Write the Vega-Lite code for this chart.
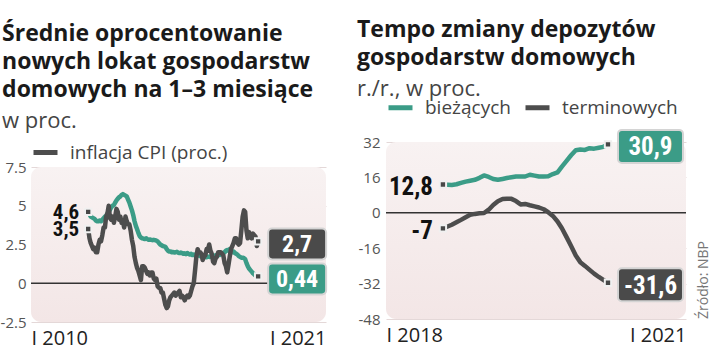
{
"$schema": "https://vega.github.io/schema/vega-lite/v6.json",
"padding": {"left": 0, "top": 19, "right": 0, "bottom": 2},
"background": "#ffffff",
"spacing": 26,
"resolve": {"scale": {"x": "independent", "y": "independent", "color": "independent", "fill": "independent"}, "legend": {"color": "independent"}},
"config": {
  "locale": {"number": {"decimal": ".", "thousands": ",", "grouping": [3], "currency": ["", ""], "minus": "-"}},
  "view": {"stroke": null, "fill": null},
  "font": "Open Sans",
  "title": {"anchor": "start", "frame": "bounds", "font": "Open Sans", "fontSize": 23, "fontWeight": "bold", "color": "#1a1a1a", "lineHeight": 28, "subtitleFont": "Open Sans", "subtitleFontSize": 22, "subtitleColor": "#444444", "subtitleFontWeight": "normal", "subtitlePadding": 9},
  "axisX": {"domain": false, "ticks": false, "grid": false, "labelFont": "Open Sans", "labelFontSize": 20, "labelColor": "#222222", "labelFlush": true, "labelPadding": 6, "title": null},
  "axisY": {"domain": false, "ticks": false, "grid": true, "gridColor": "#e4d8d8", "gridWidth": 1, "zindex": 1, "labelOverlap": false, "labelBound": false, "labelFont": "Open Sans", "labelFontSize": 15, "labelColor": "#555555", "labelPadding": 5, "title": null},
  "legend": {"orient": "top", "title": null, "labelFont": "Open Sans", "labelFontSize": 19, "labelColor": "#444444", "symbolType": "stroke", "symbolStrokeWidth": 5, "symbolSize": 576, "labelOffset": 10, "columnPadding": 4, "padding": 0}
},
"datasets": {
  "dep": [
{"d":"2010-01-01","v":4.6},{"d":"2010-02-01","v":4.45},{"d":"2010-03-01","v":4.3},{"d":"2010-04-01","v":4.25},{"d":"2010-05-01","v":4.2},{"d":"2010-06-01","v":4.15},{"d":"2010-07-01","v":4.05},{"d":"2010-08-01","v":4.0},{"d":"2010-09-01","v":4.0},{"d":"2010-10-01","v":4.05},{"d":"2010-11-01","v":4.0},{"d":"2010-12-01","v":4.1},
{"d":"2011-01-01","v":4.2},{"d":"2011-02-01","v":4.3},{"d":"2011-03-01","v":4.35},{"d":"2011-04-01","v":4.5},{"d":"2011-05-01","v":4.6},{"d":"2011-06-01","v":4.75},{"d":"2011-07-01","v":4.9},{"d":"2011-08-01","v":5.0},{"d":"2011-09-01","v":5.05},{"d":"2011-10-01","v":5.2},{"d":"2011-11-01","v":5.35},{"d":"2011-12-01","v":5.45},
{"d":"2012-01-01","v":5.55},{"d":"2012-02-01","v":5.6},{"d":"2012-03-01","v":5.7},{"d":"2012-04-01","v":5.75},{"d":"2012-05-01","v":5.7},{"d":"2012-06-01","v":5.65},{"d":"2012-07-01","v":5.6},{"d":"2012-08-01","v":5.4},{"d":"2012-09-01","v":5.2},{"d":"2012-10-01","v":4.95},{"d":"2012-11-01","v":4.7},{"d":"2012-12-01","v":4.4},
{"d":"2013-01-01","v":4.0},{"d":"2013-02-01","v":3.7},{"d":"2013-03-01","v":3.5},{"d":"2013-04-01","v":3.25},{"d":"2013-05-01","v":3.05},{"d":"2013-06-01","v":2.95},{"d":"2013-07-01","v":2.9},{"d":"2013-08-01","v":2.88},{"d":"2013-09-01","v":2.85},{"d":"2013-10-01","v":2.9},{"d":"2013-11-01","v":2.85},{"d":"2013-12-01","v":2.8},
{"d":"2014-01-01","v":2.82},{"d":"2014-02-01","v":2.8},{"d":"2014-03-01","v":2.78},{"d":"2014-04-01","v":2.8},{"d":"2014-05-01","v":2.78},{"d":"2014-06-01","v":2.75},{"d":"2014-07-01","v":2.7},{"d":"2014-08-01","v":2.6},{"d":"2014-09-01","v":2.5},{"d":"2014-10-01","v":2.45},{"d":"2014-11-01","v":2.4},{"d":"2014-12-01","v":2.38},
{"d":"2015-01-01","v":2.35},{"d":"2015-02-01","v":2.2},{"d":"2015-03-01","v":2.1},{"d":"2015-04-01","v":2.05},{"d":"2015-05-01","v":2.05},{"d":"2015-06-01","v":2.0},{"d":"2015-07-01","v":2.02},{"d":"2015-08-01","v":1.98},{"d":"2015-09-01","v":2.0},{"d":"2015-10-01","v":2.03},{"d":"2015-11-01","v":1.97},{"d":"2015-12-01","v":1.95},
{"d":"2016-01-01","v":1.98},{"d":"2016-02-01","v":1.95},{"d":"2016-03-01","v":1.9},{"d":"2016-04-01","v":1.93},{"d":"2016-05-01","v":1.88},{"d":"2016-06-01","v":1.95},{"d":"2016-07-01","v":1.9},{"d":"2016-08-01","v":1.85},{"d":"2016-09-01","v":1.9},{"d":"2016-10-01","v":1.82},{"d":"2016-11-01","v":1.86},{"d":"2016-12-01","v":1.8},
{"d":"2017-01-01","v":1.8},{"d":"2017-02-01","v":1.84},{"d":"2017-03-01","v":1.78},{"d":"2017-04-01","v":1.75},{"d":"2017-05-01","v":1.8},{"d":"2017-06-01","v":1.72},{"d":"2017-07-01","v":1.7},{"d":"2017-08-01","v":1.75},{"d":"2017-09-01","v":1.68},{"d":"2017-10-01","v":1.72},{"d":"2017-11-01","v":1.7},{"d":"2017-12-01","v":1.74},
{"d":"2018-01-01","v":1.7},{"d":"2018-02-01","v":1.75},{"d":"2018-03-01","v":1.68},{"d":"2018-04-01","v":1.8},{"d":"2018-05-01","v":1.78},{"d":"2018-06-01","v":1.85},{"d":"2018-07-01","v":1.82},{"d":"2018-08-01","v":1.9},{"d":"2018-09-01","v":1.87},{"d":"2018-10-01","v":1.95},{"d":"2018-11-01","v":2.0},{"d":"2018-12-01","v":2.1},
{"d":"2019-01-01","v":2.15},{"d":"2019-02-01","v":2.1},{"d":"2019-03-01","v":2.2},{"d":"2019-04-01","v":2.05},{"d":"2019-05-01","v":2.0},{"d":"2019-06-01","v":2.05},{"d":"2019-07-01","v":1.95},{"d":"2019-08-01","v":1.9},{"d":"2019-09-01","v":1.85},{"d":"2019-10-01","v":1.75},{"d":"2019-11-01","v":1.7},{"d":"2019-12-01","v":1.65},
{"d":"2020-01-01","v":1.65},{"d":"2020-02-01","v":1.62},{"d":"2020-03-01","v":1.55},{"d":"2020-04-01","v":1.3},{"d":"2020-05-01","v":1.1},{"d":"2020-06-01","v":0.95},{"d":"2020-07-01","v":0.85},{"d":"2020-08-01","v":0.75},{"d":"2020-09-01","v":0.65},{"d":"2020-10-01","v":0.58},{"d":"2020-11-01","v":0.5},{"d":"2020-12-01","v":0.47},
{"d":"2021-01-01","v":0.44}
  ],
  "cpi": [
{"d":"2010-01-01","v":3.5},{"d":"2010-02-01","v":2.9},{"d":"2010-03-01","v":2.6},{"d":"2010-04-01","v":2.4},{"d":"2010-05-01","v":2.2},{"d":"2010-06-01","v":2.3},{"d":"2010-07-01","v":2.0},{"d":"2010-08-01","v":2.0},{"d":"2010-09-01","v":2.5},{"d":"2010-10-01","v":2.8},{"d":"2010-11-01","v":2.7},{"d":"2010-12-01","v":3.1},
{"d":"2011-01-01","v":3.6},{"d":"2011-02-01","v":3.6},{"d":"2011-03-01","v":4.3},{"d":"2011-04-01","v":4.5},{"d":"2011-05-01","v":5.0},{"d":"2011-06-01","v":4.2},{"d":"2011-07-01","v":4.1},{"d":"2011-08-01","v":4.3},{"d":"2011-09-01","v":3.9},{"d":"2011-10-01","v":4.3},{"d":"2011-11-01","v":4.8},{"d":"2011-12-01","v":4.6},
{"d":"2012-01-01","v":4.1},{"d":"2012-02-01","v":4.3},{"d":"2012-03-01","v":3.9},{"d":"2012-04-01","v":4.0},{"d":"2012-05-01","v":3.6},{"d":"2012-06-01","v":4.3},{"d":"2012-07-01","v":4.0},{"d":"2012-08-01","v":3.8},{"d":"2012-09-01","v":3.8},{"d":"2012-10-01","v":3.4},{"d":"2012-11-01","v":2.8},{"d":"2012-12-01","v":2.4},
{"d":"2013-01-01","v":1.7},{"d":"2013-02-01","v":1.3},{"d":"2013-03-01","v":1.0},{"d":"2013-04-01","v":0.8},{"d":"2013-05-01","v":0.5},{"d":"2013-06-01","v":0.2},{"d":"2013-07-01","v":1.1},{"d":"2013-08-01","v":1.1},{"d":"2013-09-01","v":1.0},{"d":"2013-10-01","v":0.8},{"d":"2013-11-01","v":0.6},{"d":"2013-12-01","v":0.7},
{"d":"2014-01-01","v":0.5},{"d":"2014-02-01","v":0.7},{"d":"2014-03-01","v":0.7},{"d":"2014-04-01","v":0.3},{"d":"2014-05-01","v":0.2},{"d":"2014-06-01","v":0.3},{"d":"2014-07-01","v":-0.2},{"d":"2014-08-01","v":-0.3},{"d":"2014-09-01","v":-0.3},{"d":"2014-10-01","v":-0.6},{"d":"2014-11-01","v":-0.6},{"d":"2014-12-01","v":-1.0},
{"d":"2015-01-01","v":-1.4},{"d":"2015-02-01","v":-1.6},{"d":"2015-03-01","v":-1.5},{"d":"2015-04-01","v":-1.1},{"d":"2015-05-01","v":-0.9},{"d":"2015-06-01","v":-0.8},{"d":"2015-07-01","v":-0.7},{"d":"2015-08-01","v":-0.6},{"d":"2015-09-01","v":-0.8},{"d":"2015-10-01","v":-0.7},{"d":"2015-11-01","v":-0.6},{"d":"2015-12-01","v":-0.5},
{"d":"2016-01-01","v":-0.9},{"d":"2016-02-01","v":-0.8},{"d":"2016-03-01","v":-0.9},{"d":"2016-04-01","v":-1.1},{"d":"2016-05-01","v":-0.9},{"d":"2016-06-01","v":-0.8},{"d":"2016-07-01","v":-0.9},{"d":"2016-08-01","v":-0.8},{"d":"2016-09-01","v":-0.5},{"d":"2016-10-01","v":-0.2},{"d":"2016-11-01","v":0.0},{"d":"2016-12-01","v":0.8},
{"d":"2017-01-01","v":1.7},{"d":"2017-02-01","v":2.2},{"d":"2017-03-01","v":2.0},{"d":"2017-04-01","v":2.0},{"d":"2017-05-01","v":1.9},{"d":"2017-06-01","v":1.5},{"d":"2017-07-01","v":1.7},{"d":"2017-08-01","v":1.8},{"d":"2017-09-01","v":2.2},{"d":"2017-10-01","v":2.1},{"d":"2017-11-01","v":2.5},{"d":"2017-12-01","v":2.1},
{"d":"2018-01-01","v":1.9},{"d":"2018-02-01","v":1.4},{"d":"2018-03-01","v":1.3},{"d":"2018-04-01","v":1.6},{"d":"2018-05-01","v":1.7},{"d":"2018-06-01","v":2.0},{"d":"2018-07-01","v":2.0},{"d":"2018-08-01","v":2.0},{"d":"2018-09-01","v":1.9},{"d":"2018-10-01","v":1.8},{"d":"2018-11-01","v":1.3},{"d":"2018-12-01","v":1.1},
{"d":"2019-01-01","v":0.7},{"d":"2019-02-01","v":1.2},{"d":"2019-03-01","v":1.7},{"d":"2019-04-01","v":2.2},{"d":"2019-05-01","v":2.4},{"d":"2019-06-01","v":2.6},{"d":"2019-07-01","v":2.9},{"d":"2019-08-01","v":2.9},{"d":"2019-09-01","v":2.6},{"d":"2019-10-01","v":2.5},{"d":"2019-11-01","v":2.6},{"d":"2019-12-01","v":3.4},
{"d":"2020-01-01","v":4.3},{"d":"2020-02-01","v":4.7},{"d":"2020-03-01","v":4.6},{"d":"2020-04-01","v":3.4},{"d":"2020-05-01","v":2.9},{"d":"2020-06-01","v":3.3},{"d":"2020-07-01","v":3.0},{"d":"2020-08-01","v":2.9},{"d":"2020-09-01","v":3.2},{"d":"2020-10-01","v":3.1},{"d":"2020-11-01","v":3.0},{"d":"2020-12-01","v":2.4},
{"d":"2021-01-01","v":2.7}
  ],
  "leftStart": [{"d":"2010-01-01","v":4.6,"t":"4,6"},{"d":"2010-01-01","v":3.5,"t":"3,5"}],
  "leftEnd": [{"d":"2021-01-01","v":2.7,"t":"2,7","k":"cpi"},{"d":"2021-01-01","v":0.44,"t":"0,44","k":"dep"}],
  "dep2": [
{"d":"2018-01-01","s":"bieżących","v":12.8},{"d":"2018-02-01","s":"bieżących","v":12.7},{"d":"2018-03-01","s":"bieżących","v":12.6},{"d":"2018-04-01","s":"bieżących","v":12.9},{"d":"2018-05-01","s":"bieżących","v":13.5},{"d":"2018-06-01","s":"bieżących","v":14.1},{"d":"2018-07-01","s":"bieżących","v":14.5},{"d":"2018-08-01","s":"bieżących","v":14.9},{"d":"2018-09-01","s":"bieżących","v":15.8},{"d":"2018-10-01","s":"bieżących","v":16.9},{"d":"2018-11-01","s":"bieżących","v":16.2},{"d":"2018-12-01","s":"bieżących","v":15.3},
{"d":"2019-01-01","s":"bieżących","v":14.9},{"d":"2019-02-01","s":"bieżących","v":15.3},{"d":"2019-03-01","s":"bieżących","v":15.7},{"d":"2019-04-01","s":"bieżących","v":16.1},{"d":"2019-05-01","s":"bieżących","v":16.4},{"d":"2019-06-01","s":"bieżących","v":16.4},{"d":"2019-07-01","s":"bieżących","v":16.4},{"d":"2019-08-01","s":"bieżących","v":17.2},{"d":"2019-09-01","s":"bieżących","v":16.8},{"d":"2019-10-01","s":"bieżących","v":16.4},{"d":"2019-11-01","s":"bieżących","v":16.4},{"d":"2019-12-01","s":"bieżących","v":16.5},
{"d":"2020-01-01","s":"bieżących","v":17.5},{"d":"2020-02-01","s":"bieżących","v":18.3},{"d":"2020-03-01","s":"bieżących","v":20.9},{"d":"2020-04-01","s":"bieżących","v":23.5},{"d":"2020-05-01","s":"bieżących","v":26.0},{"d":"2020-06-01","s":"bieżących","v":28.3},{"d":"2020-07-01","s":"bieżących","v":28.6},{"d":"2020-08-01","s":"bieżących","v":28.4},{"d":"2020-09-01","s":"bieżących","v":29.2},{"d":"2020-10-01","s":"bieżących","v":29.0},{"d":"2020-11-01","s":"bieżących","v":29.4},{"d":"2020-12-01","s":"bieżących","v":29.8},
{"d":"2021-01-01","s":"bieżących","v":30.9},
{"d":"2018-01-01","s":"terminowych","v":-7.0},{"d":"2018-02-01","s":"terminowych","v":-6.2},{"d":"2018-03-01","s":"terminowych","v":-5.4},{"d":"2018-04-01","s":"terminowych","v":-4.3},{"d":"2018-05-01","s":"terminowych","v":-3.2},{"d":"2018-06-01","s":"terminowych","v":-2.0},{"d":"2018-07-01","s":"terminowych","v":-0.9},{"d":"2018-08-01","s":"terminowych","v":-0.5},{"d":"2018-09-01","s":"terminowych","v":-0.2},{"d":"2018-10-01","s":"terminowych","v":-0.1},{"d":"2018-11-01","s":"terminowych","v":1.4},{"d":"2018-12-01","s":"terminowych","v":3.5},
{"d":"2019-01-01","s":"terminowych","v":5.2},{"d":"2019-02-01","s":"terminowych","v":6.2},{"d":"2019-03-01","s":"terminowych","v":6.4},{"d":"2019-04-01","s":"terminowych","v":6.3},{"d":"2019-05-01","s":"terminowych","v":5.3},{"d":"2019-06-01","s":"terminowych","v":3.8},{"d":"2019-07-01","s":"terminowych","v":4.0},{"d":"2019-08-01","s":"terminowych","v":3.4},{"d":"2019-09-01","s":"terminowych","v":2.9},{"d":"2019-10-01","s":"terminowych","v":2.4},{"d":"2019-11-01","s":"terminowych","v":1.6},{"d":"2019-12-01","s":"terminowych","v":0.3},
{"d":"2020-01-01","s":"terminowych","v":-1.4},{"d":"2020-02-01","s":"terminowych","v":-3.9},{"d":"2020-03-01","s":"terminowych","v":-7.0},{"d":"2020-04-01","s":"terminowych","v":-11.0},{"d":"2020-05-01","s":"terminowych","v":-15.0},{"d":"2020-06-01","s":"terminowych","v":-19.3},{"d":"2020-07-01","s":"terminowych","v":-22.3},{"d":"2020-08-01","s":"terminowych","v":-24.0},{"d":"2020-09-01","s":"terminowych","v":-25.8},{"d":"2020-10-01","s":"terminowych","v":-27.5},{"d":"2020-11-01","s":"terminowych","v":-29.0},{"d":"2020-12-01","s":"terminowych","v":-30.3},
{"d":"2021-01-01","s":"terminowych","v":-31.6}
  ],
  "rightStart": [{"d":"2018-01-01","v":12.8,"t":"12,8"},{"d":"2018-01-01","v":-7,"t":"-7"}],
  "rightEnd": [{"d":"2021-01-01","v":30.9,"t":"30,9","k":"g"},{"d":"2021-01-01","v":-31.6,"t":"-31,6","k":"d"}]
},
"hconcat": [
{
  "width": 295, "height": 180,
  "title": {"text": ["Średnie oprocentowanie", "nowych lokat gospodarstw", "domowych na 1–3 miesiące"], "subtitle": "w proc.", "offset": 6, "dx": 2},
  "layer": [
    {"data": {"values": [{}]}, "mark": {"type": "rect", "cornerRadius": 10, "color": {"gradient": "linear", "x1": 0, "y1": 0, "x2": 0, "y2": 1, "stops": [{"offset": 0, "color": "#f8f2f2"}, {"offset": 1, "color": "#f3e6e6"}]}},
     "encoding": {"y": {"datum": 7.5, "type": "quantitative", "scale": {"domain": [-2.5, 9.113], "nice": false, "zero": false}, "axis": {"values": [-2.5, 0, 2.5, 5, 7.5], "tickCount": 10, "labelExpr": "toString(datum.value)", "labelOverlap": false, "gridOpacity": {"condition": {"test": "datum.value === 0", "value": 0}, "value": 1}}}, "y2": {"datum": -2.5}}},
    {"data": {"values": [{}]}, "mark": {"type": "rule", "color": "#333333", "strokeWidth": 1.5}, "encoding": {"y": {"datum": 0, "type": "quantitative"}}},
    {"data": {"name": "dep"}, "mark": {"type": "line", "color": "#3b9c87", "strokeWidth": 4.5, "strokeJoin": "round", "strokeCap": "round"},
     "encoding": {
       "x": {"field": "d", "type": "temporal", "title": null, "scale": {"domain": [{"year": 2006, "month": 4, "date": 20, "utc": true}, {"year": 2025, "month": 5, "date": 25, "utc": true}]}, "axis": {"values": [{"year": 2006, "month": 4, "date": 20, "utc": true}, {"year": 2025, "month": 5, "date": 25, "utc": true}], "tickCount": 10, "labelExpr": "datum.value < utc(2015,0,1) ? 'I 2010' : 'I 2021'"}},
       "y": {"field": "v", "type": "quantitative", "title": null, "scale": {"domain": [-2.5, 9.113], "nice": false, "zero": false}}
     }},
    {"data": {"name": "cpi"}, "mark": {"type": "line", "strokeWidth": 4.5, "strokeJoin": "round", "strokeCap": "round"},
     "encoding": {
       "x": {"field": "d", "type": "temporal"},
       "y": {"field": "v", "type": "quantitative"},
       "color": {"datum": "inflacja CPI (proc.)", "type": "nominal", "scale": {"domain": ["inflacja CPI (proc.)"], "range": ["#4d4d4d"]}, "legend": {"offset": -21}}
     }},
    {"data": {"name": "leftStart"}, "mark": {"type": "point", "shape": "square", "filled": true, "size": 40, "fill": "#474747", "stroke": "#f0f0f0", "strokeWidth": 2, "opacity": 1},
     "encoding": {"x": {"field": "d", "type": "temporal"}, "y": {"field": "v", "type": "quantitative"}}},
    {"data": {"name": "leftStart"}, "mark": {"type": "text", "align": "right", "baseline": "middle", "xOffset": -9, "yOffset": 1, "font": "Roboto Condensed, Roboto", "fontWeight": "bold", "fontSize": 21, "color": "#111111"},
     "encoding": {"x": {"field": "d", "type": "temporal"}, "y": {"field": "v", "type": "quantitative"}, "text": {"field": "t"}}},
    {"data": {"name": "leftEnd"}, "mark": {"type": "point", "shape": "square", "filled": true, "size": 40, "fill": "#474747", "stroke": "#f0f0f0", "strokeWidth": 2, "opacity": 1},
     "encoding": {"x": {"field": "d", "type": "temporal"}, "y": {"field": "v", "type": "quantitative"}}},
    {"data": {"name": "leftEnd"}, "mark": {"type": "point", "shape": "M-0.86,-0.534H0.86A0.14,0.14 0 0 1 1,-0.394V0.394A0.14,0.14 0 0 1 0.86,0.534H-0.86A0.14,0.14 0 0 1 -1,0.394V-0.394A0.14,0.14 0 0 1 -0.86,-0.534Z", "size": 3364, "filled": true, "opacity": 1, "stroke": "#d4d4d4", "strokeWidth": 2, "xOffset": 39, "yOffset": 2.5},
     "encoding": {"x": {"field": "d", "type": "temporal"}, "y": {"field": "v", "type": "quantitative"}, "fill": {"field": "k", "type": "nominal", "scale": {"domain": ["cpi", "dep"], "range": ["#4a4a4a", "#3b9c87"]}, "legend": null}}},
    {"data": {"name": "leftEnd"}, "mark": {"type": "text", "align": "center", "baseline": "middle", "xOffset": 39, "yOffset": 3.5, "font": "Roboto Condensed, Roboto", "fontWeight": "bold", "fontSize": 24, "color": "#ffffff"},
     "encoding": {"x": {"field": "d", "type": "temporal"}, "y": {"field": "v", "type": "quantitative"}, "text": {"field": "t"}}}
  ]
},
{
  "width": 300, "height": 177,
  "title": {"text": ["Tempo zmiany depozytów", "gospodarstw domowych"], "subtitle": "r./r., w proc.", "offset": -7, "dx": -1},
  "layer": [
    {"data": {"values": [{}]}, "mark": {"type": "rect", "cornerRadius": 10, "color": {"gradient": "linear", "x1": 0, "y1": 0, "x2": 0, "y2": 1, "stops": [{"offset": 0, "color": "#f8f2f2"}, {"offset": 1, "color": "#f3e6e6"}]}},
     "encoding": {"y": {"datum": 32, "type": "quantitative", "scale": {"domain": [-48, 32], "nice": false, "zero": false}, "axis": {"values": [-48, -32, -16, 0, 16, 32], "tickCount": 10, "format": "d", "labelOverlap": false, "labelPadding": 6, "gridOpacity": {"condition": {"test": "datum.value === 0", "value": 0}, "value": 1}}}, "y2": {"datum": -48}}},
    {"data": {"values": [{}]}, "mark": {"type": "rule", "color": "#333333", "strokeWidth": 1.5}, "encoding": {"y": {"datum": 0, "type": "quantitative"}}},
    {"data": {"name": "dep2"}, "mark": {"type": "line", "strokeWidth": 4.5, "strokeJoin": "round", "strokeCap": "round"},
     "encoding": {
       "x": {"field": "d", "type": "temporal", "title": null, "scale": {"domain": [{"year": 2016, "month": 12, "date": 19, "utc": true}, {"year": 2022, "month": 6, "date": 3, "utc": true}]}, "axis": {"values": [{"year": 2016, "month": 12, "date": 19, "utc": true}, {"year": 2022, "month": 6, "date": 3, "utc": true}], "tickCount": 10, "labelExpr": "datum.value < utc(2019,0,1) ? 'I 2018' : 'I 2021'"}},
       "y": {"field": "v", "type": "quantitative", "title": null, "scale": {"domain": [-48, 32], "nice": false, "zero": false}},
       "color": {"field": "s", "type": "nominal", "scale": {"domain": ["bieżących", "terminowych"], "range": ["#3b9c87", "#4d4d4d"]}, "legend": {"offset": 24}}
     }},
    {"data": {"name": "rightStart"}, "mark": {"type": "point", "shape": "square", "filled": true, "size": 40, "fill": "#474747", "stroke": "#f0f0f0", "strokeWidth": 2, "opacity": 1},
     "encoding": {"x": {"field": "d", "type": "temporal"}, "y": {"field": "v", "type": "quantitative"}}},
    {"data": {"name": "rightStart"}, "mark": {"type": "text", "align": "right", "baseline": "middle", "xOffset": -10, "yOffset": 3, "font": "Roboto Condensed, Roboto", "fontWeight": "bold", "fontSize": 25, "color": "#111111"},
     "encoding": {"x": {"field": "d", "type": "temporal"}, "y": {"field": "v", "type": "quantitative"}, "text": {"field": "t"}}},
    {"data": {"name": "rightEnd"}, "mark": {"type": "point", "shape": "square", "filled": true, "size": 40, "fill": "#474747", "stroke": "#f0f0f0", "strokeWidth": 2, "opacity": 1},
     "encoding": {"x": {"field": "d", "type": "temporal"}, "y": {"field": "v", "type": "quantitative"}}},
    {"data": {"name": "rightEnd"}, "mark": {"type": "point", "shape": "M-0.88,-0.508H0.88A0.12,0.12 0 0 1 1,-0.388V0.388A0.12,0.12 0 0 1 0.88,0.508H-0.88A0.12,0.12 0 0 1 -1,0.388V-0.388A0.12,0.12 0 0 1 -0.88,-0.508Z", "size": 4225, "filled": true, "opacity": 1, "stroke": "#d4d4d4", "strokeWidth": 2, "xOffset": 42.5, "yOffset": 2},
     "encoding": {"x": {"field": "d", "type": "temporal"}, "y": {"field": "v", "type": "quantitative"}, "fill": {"field": "k", "type": "nominal", "scale": {"domain": ["g", "d"], "range": ["#3b9c87", "#4a4a4a"]}, "legend": null}}},
    {"data": {"name": "rightEnd"}, "mark": {"type": "text", "align": "center", "baseline": "middle", "xOffset": 42.5, "yOffset": 3, "font": "Roboto Condensed, Roboto", "fontWeight": "bold", "fontSize": 25, "color": "#ffffff"},
     "encoding": {"x": {"field": "d", "type": "temporal"}, "y": {"field": "v", "type": "quantitative"}, "text": {"field": "t"}}},
    {"data": {"values": [{}]}, "mark": {"type": "text", "text": "Źródło: NBP", "angle": 270, "align": "left", "baseline": "middle", "xOffset": 18, "fontSize": 14, "color": "#777777", "font": "Open Sans"},
     "encoding": {"x": {"datum": {"year": 2022, "month": 6, "date": 3, "utc": true}, "type": "temporal"}, "y": {"datum": -48, "type": "quantitative"}}}
  ]
}
]
}
